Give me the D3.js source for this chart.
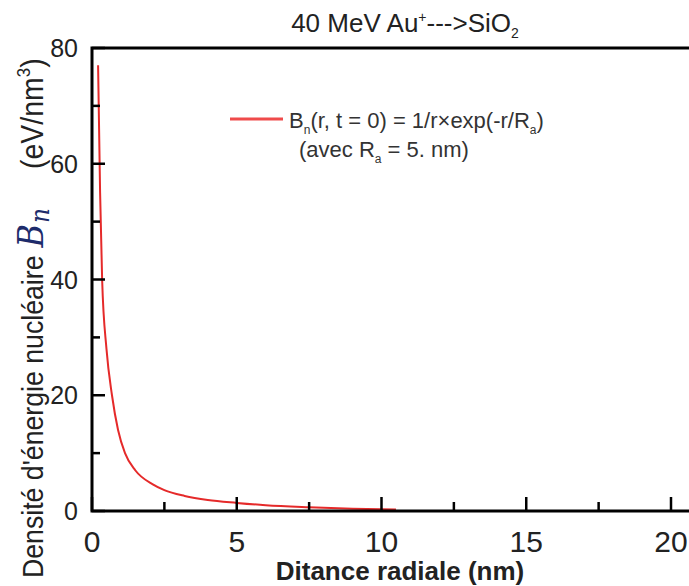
<!DOCTYPE html>
<html>
<head>
<meta charset="utf-8">
<script src="https://cdn.jsdelivr.net/npm/d3@7"></script>
<style>
  body { margin: 0; background: #fff; }
  svg { display: block; font-family: "Liberation Sans", Arial, sans-serif; }
</style>
</head>
<body>
<div id="chart"></div>
<script>
// values
const radius = [0.21, 0.28, 0.35, 0.5, 0.69, 0.9, 1.14, 1.5, 2.1, 2.5, 3.2, 4, 5, 6, 7.5, 9, 10.5];
const density = [77, 55, 40, 28, 20, 14, 10, 7.0, 4.6, 3.6, 2.6, 1.9, 1.4, 1.0, 0.65, 0.4, 0.25];
const xTicks = [0, 5, 10, 15, 20];
const xMinor = [2.5, 7.5, 12.5, 17.5];
const yTicks = [0, 20, 40, 60, 80];
const yMinor = [10, 30, 50, 70];

const width = 689;
const height = 586;
const margin = { left: 92, top: 48, bottom: 75 };

const x = d3.scaleLinear().domain([0, 21.2]).range([margin.left, margin.left + 21.2 * 28.95]);
const y = d3.scaleLinear().domain([0, 80]).range([height - margin.bottom, margin.top]);

const svg = d3.select('#chart')
  .append('svg')
  .attr('width', width)
  .attr('height', height);

// data line
const data = radius.map((r, i) => ({ r: r, b: density[i] }));
const line = d3.line()
  .x(d => x(d.r))
  .y(d => y(d.b))
  .curve(d3.curveMonotoneX);

svg.append('path')
  .datum(data)
  .attr('d', line)
  .attr('fill', 'none')
  .attr('stroke', '#e52a2a')
  .attr('stroke-width', 2);

// ticks, pointing inside the frame
const xTickData = xTicks.map(v => ({ v: v, len: 14 })).concat(xMinor.map(v => ({ v: v, len: 9 })));
const yTickData = yTicks.map(v => ({ v: v, len: 13 })).concat(yMinor.map(v => ({ v: v, len: 8 })));

svg.append('g').selectAll('line')
  .data(xTickData)
  .enter().append('line')
  .attr('x1', d => x(d.v)).attr('x2', d => x(d.v))
  .attr('y1', y(0)).attr('y2', d => y(0) - d.len)
  .attr('stroke', '#000').attr('stroke-width', 2.5);

svg.append('g').selectAll('line')
  .data(yTickData)
  .enter().append('line')
  .attr('x1', x(0)).attr('x2', d => x(0) + d.len)
  .attr('y1', d => y(d.v)).attr('y2', d => y(d.v))
  .attr('stroke', '#000').attr('stroke-width', 2.5);

// frame: left, bottom, top
svg.append('path')
  .attr('d', `M${width},${y(80)}H${x(0)}V${y(0)}H${width}`)
  .attr('fill', 'none')
  .attr('stroke', '#000')
  .attr('stroke-width', 3);

// tick labels
svg.selectAll('.xl')
  .data(xTicks)
  .enter().append('text')
  .attr('x', d => x(d))
  .attr('y', y(0) + 41)
  .attr('text-anchor', 'middle')
  .attr('font-size', 30)
  .attr('fill', '#222')
  .text(d => d);

svg.selectAll('.yl')
  .data(yTicks)
  .enter().append('text')
  .attr('x', x(0) - 14)
  .attr('y', d => y(d) + 9)
  .attr('text-anchor', 'end')
  .attr('font-size', 25)
  .attr('fill', '#222')
  .text(d => d);

// title
const title = svg.append('text')
  .attr('x', 405).attr('y', 32)
  .attr('text-anchor', 'middle')
  .attr('font-size', 26)
  .attr('fill', '#222');
title.append('tspan').text('40 MeV Au');
title.append('tspan').attr('font-size', 14).attr('dy', -10).text('+');
title.append('tspan').attr('dy', 10).text('--->SiO');
title.append('tspan').attr('font-size', 14).attr('dy', 6).text('2');

// x label
svg.append('text')
  .attr('x', 400).attr('y', 580)
  .attr('text-anchor', 'middle')
  .attr('font-size', 26)
  .attr('font-weight', 'bold')
  .attr('fill', '#222')
  .text('Ditance radiale (nm)');

// y label, written from the bottom up (a little narrow, as in the reference)
const yLabel = svg.append('text')
  .attr('transform', 'translate(43,578) rotate(-90) scale(0.89,1)')
  .attr('text-anchor', 'start')
  .attr('font-size', 30)
  .attr('fill', '#222');
yLabel.append('tspan').text('Densité d\'énergie nucléaire');
yLabel.append('tspan')
  .attr('font-family', 'DejaVu Serif, serif')
  .attr('font-style', 'italic')
  .attr('font-size', 36)
  .attr('fill', '#1d2b6b')
  .attr('dx', 9)
  .text('B');
yLabel.append('tspan')
  .attr('font-family', 'DejaVu Serif, serif')
  .attr('font-style', 'italic')
  .attr('font-size', 26)
  .attr('fill', '#1d2b6b')
  .attr('dx', 1)
  .attr('dy', 6)
  .text('n');
yLabel.append('tspan')
  .attr('font-size', 32)
  .attr('dx', 44)
  .attr('dy', -6)
  .text('(eV/nm');
yLabel.append('tspan').attr('font-size', 19).attr('dy', -13).text('3');
yLabel.append('tspan').attr('font-size', 32).attr('dy', 13).text(')');

// legend
svg.append('line')
  .attr('x1', 230).attr('x2', 283)
  .attr('y1', 119).attr('y2', 119)
  .attr('stroke', '#ef4b4b').attr('stroke-width', 3);

const leg1 = svg.append('text')
  .attr('x', 289).attr('y', 128)
  .attr('font-size', 22)
  .attr('fill', '#333');
leg1.append('tspan').text('B');
leg1.append('tspan').attr('font-size', 12).attr('dy', 6).text('n');
leg1.append('tspan').attr('dy', -6).text('(r, t = 0) = 1/r×exp(-r/R');
leg1.append('tspan').attr('font-size', 12).attr('dy', 6).text('a');
leg1.append('tspan').attr('dy', -6).text(')');

const leg2 = svg.append('text')
  .attr('x', 299).attr('y', 157)
  .attr('font-size', 22)
  .attr('fill', '#333');
leg2.append('tspan').text('(avec R');
leg2.append('tspan').attr('font-size', 12).attr('dy', 6).text('a');
leg2.append('tspan').attr('dy', -6).text(' = 5. nm)');
</script>
</body>
</html>
